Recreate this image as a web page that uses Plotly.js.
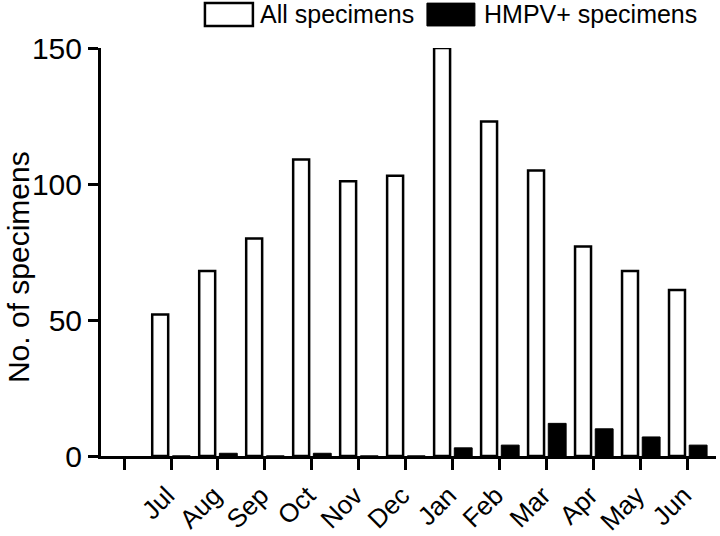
<!DOCTYPE html>
<html>
<head>
<meta charset="utf-8">
<script src="https://cdn.plot.ly/plotly-3.0.1.min.js"></script>
<style>html,body{margin:0;padding:0;background:#fff;}#chart{width:720px;height:536px;}</style>
</head>
<body>
<div id="chart"></div>
<script>
const months = ['Jul','Aug','Sep','Oct','Nov','Dec','Jan','Feb','Mar','Apr','May','Jun'];
const allSpecimens = [52, 68, 80, 109, 101, 103, 150, 123, 105, 77, 68, 61];
const hmpvPositive = [0, 1, 0, 1, 0, 0, 3, 4, 12, 10, 7, 4];
const yTicks = [0, 50, 100, 150];

const xPos = months.map((m, i) => i + 1);
const FONT = 'Liberation Sans, Arial, Helvetica, sans-serif';

const traces = [
  {
    type: 'bar', name: 'All specimens', x: xPos, y: allSpecimens,
    width: 0.34, offset: -0.40,
    marker: {color: '#ffffff', line: {color: '#000000', width: 2.5}},
    showlegend: false, hoverinfo: 'y'
  },
  {
    type: 'bar', name: 'HMPV+ specimens', x: xPos, y: hmpvPositive,
    width: 0.38, offset: 0.03,
    marker: {color: '#000000', line: {color: '#000000', width: 1}},
    showlegend: false, hoverinfo: 'y'
  }
];

const tickVals = [0].concat(xPos);
const tickText = [''].concat(months);

const layout = {
  width: 720, height: 536,
  margin: {l: 101, r: 4, t: 48, b: 80},
  paper_bgcolor: '#ffffff', plot_bgcolor: '#ffffff',
  barmode: 'overlay',
  font: {family: FONT, color: '#000000'},
  xaxis: {
    range: [-0.49, 12.6], tickmode: 'array', tickvals: tickVals, ticktext: tickText,
    tickangle: -45, ticks: 'outside', ticklen: 11, tickwidth: 3, tickcolor: '#000',
    showline: true, linewidth: 3, linecolor: '#000', showgrid: false, zeroline: false,
    tickfont: {size: 26, family: FONT, color: '#000'}, ticklabelshift: -4
  },
  yaxis: {
    range: [0, 150], tickmode: 'array', tickvals: yTicks,
    ticks: 'outside', ticklen: 10, tickwidth: 3, tickcolor: '#000',
    showline: true, linewidth: 3, linecolor: '#000', showgrid: false, zeroline: false,
    tickfont: {size: 30, family: FONT, color: '#000'}
  },
  shapes: [
    {type: 'rect', xref: 'paper', yref: 'paper', x0: 0.169, x1: 0.247, y0: 1.054, y1: 1.110,
     fillcolor: '#ffffff', line: {color: '#000', width: 2.5}},
    {type: 'rect', xref: 'paper', yref: 'paper', x0: 0.530, x1: 0.608, y0: 1.054, y1: 1.110,
     fillcolor: '#000000', line: {color: '#000', width: 1}}
  ],
  annotations: [
    {xref: 'paper', yref: 'paper', x: 0.255, y: 1.083, xanchor: 'left', yanchor: 'middle',
     text: 'All specimens', showarrow: false, font: {size: 25, family: FONT, color: '#000'}},
    {xref: 'paper', yref: 'paper', x: 0.6195, y: 1.083, xanchor: 'left', yanchor: 'middle',
     text: 'HMPV+ specimens', showarrow: false, font: {size: 25, family: FONT, color: '#000'}},
    {xref: 'paper', yref: 'paper', x: -0.135, y: 0.463, xanchor: 'center', yanchor: 'middle',
     textangle: -90, text: 'No. of specimens', showarrow: false,
     font: {size: 30, family: FONT, color: '#000'}}
  ]
};

Plotly.newPlot('chart', traces, layout, {displayModeBar: false, staticPlot: true});
</script>
</body>
</html>
